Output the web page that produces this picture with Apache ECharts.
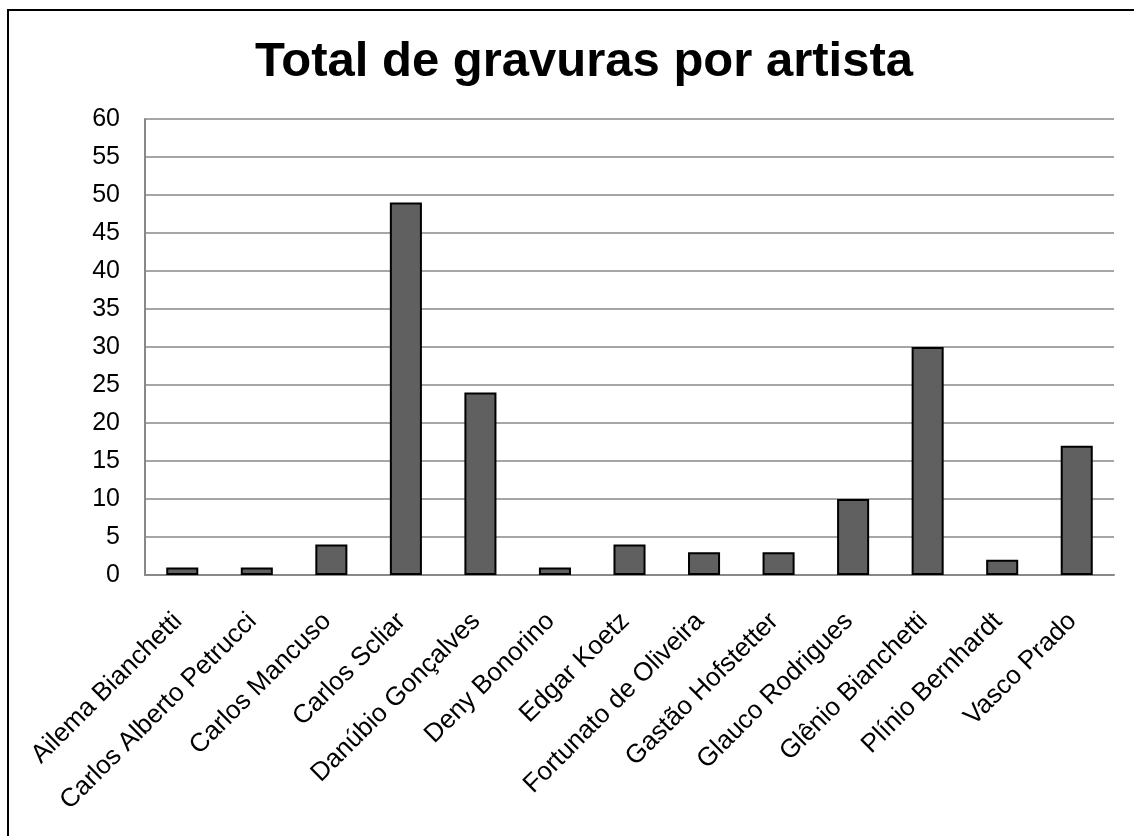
<!DOCTYPE html>
<html>
<head>
<meta charset="utf-8">
<script src="https://cdn.jsdelivr.net/npm/echarts@6/dist/echarts.min.js"></script>
<style>
  html, body { margin: 0; padding: 0; background: #fff; }
  #chart { width: 1134px; height: 836px; }
</style>
</head>
<body>
<div id="chart"></div>
<script>
// dados
const artistas = [
  "Ailema Bianchetti", "Carlos Alberto Petrucci", "Carlos Mancuso", "Carlos Scliar",
  "Danúbio Gonçalves", "Deny Bonorino", "Edgar Koetz", "Fortunato de Oliveira",
  "Gastão Hofstetter", "Glauco Rodrigues", "Glênio Bianchetti", "Plínio Bernhardt", "Vasco Prado"
]
const gravuras = [1, 1, 4, 49, 24, 1, 4, 3, 3, 10, 30, 2, 17]

const myChart = echarts.init(document.getElementById("chart"))
const fonte = "Liberation Sans, Arial, sans-serif"

const option = {
  animation: false,
  title: {
    text: "Total de gravuras por artista",
    left: 250,
    top: 33,
    textStyle: { fontFamily: fonte, fontSize: 49, fontWeight: "bold", color: "#000" },
  },
  graphic: [
    {
      type: "rect",
      shape: { x: 8, y: 10, width: 1300, height: 1000 },
      style: { fill: "none", stroke: "#000", lineWidth: 2 },
      silent: true,
    },
  ],
  grid: { left: 145, right: 20, top: 119, bottom: 261 },
  xAxis: {
    type: "category",
    data: artistas,
    axisTick: { show: false },
    axisLine: { lineStyle: { color: "#888", width: 2 } },
    axisLabel: {
      interval: 0,
      rotate: 45,
      margin: 38,
      padding: [0, 6, 0, 0],
      fontFamily: fonte,
      fontSize: 26,
      color: "#000",
    },
  },
  yAxis: {
    type: "value",
    min: 0,
    max: 60,
    interval: 5,
    axisLine: { show: true, lineStyle: { color: "#888", width: 2 } },
    axisTick: { show: false },
    splitLine: { lineStyle: { color: "#888", width: 1.5 } },
    axisLabel: { fontFamily: fonte, fontSize: 25, color: "#000", margin: 25 },
  },
  series: [
    {
      type: "bar",
      data: gravuras,
      barWidth: "43%",
      itemStyle: { color: "#606060", borderColor: "#000", borderWidth: 2 },
    },
  ],
}

myChart.setOption(option)
</script>
</body>
</html>
